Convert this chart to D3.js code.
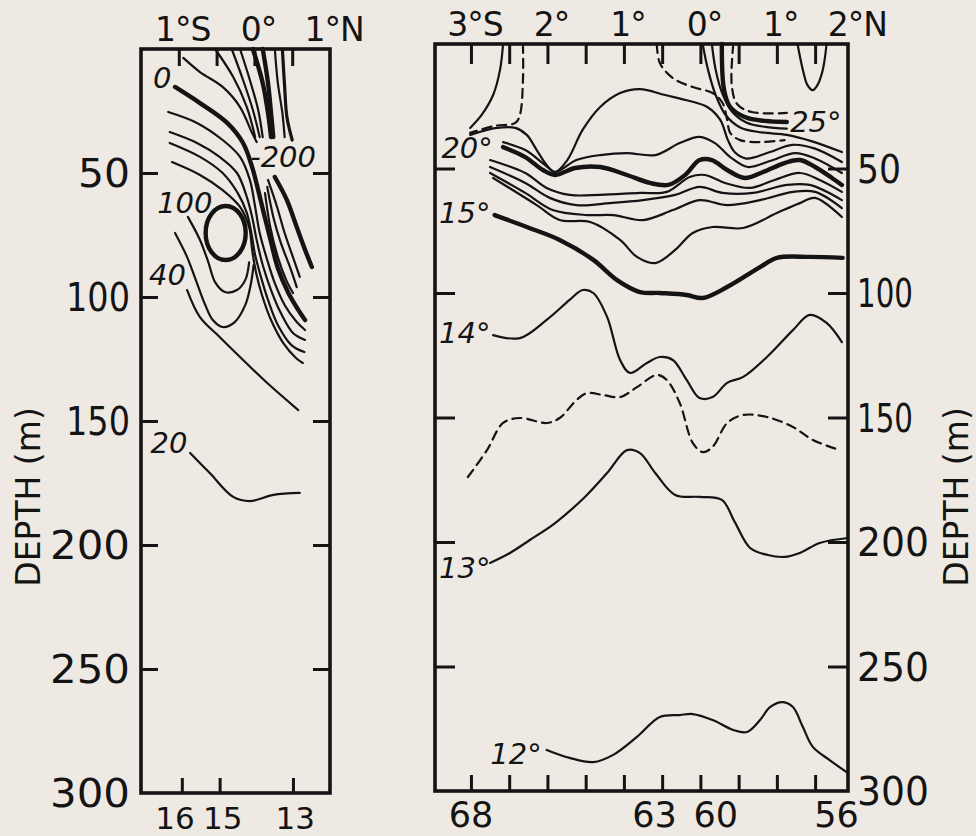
<!DOCTYPE html>
<html>
<head>
<meta charset="utf-8">
<script src="https://cdn.jsdelivr.net/npm/d3@7"></script>
<style>
  html, body { margin: 0; background: #efe9e3; }
  svg { display: block; }
  text { font-family: "DejaVu Sans", sans-serif; fill: #141414; }
</style>
</head>
<body>
<div id="chart"></div>
<script>
// ---- axes data ----
const depthTicks = [50, 100, 150, 200, 250];
const depthLabels = [50, 100, 150, 200, 250, 300];

const leftLatTicks = [-1, -0.5, 0, 0.5];
const leftLatLabels = ["1°S", "0°", "1°N"];
const leftLatLabelPos = [-1, 0, 1];
const leftStations = ["16", "15", "13"];
const leftStationLat = [-0.96, -0.46, 0.51];
const leftStationLabelLat = [-1.05, -0.42, 0.54];

const rightLatTicks = [-3, -2.5, -2, -1.5, -1, -0.5, 0, 0.5, 1, 1.5];
const rightLatLabels = ["3°S", "2°", "1°", "0°", "1°", "2°N"];
const rightLatLabelPos = [-3, -2, -1, 0, 1, 2];
const rightStations = ["68", "63", "60", "56"];
const rightStationLat = [-3.0, -0.6, 0.2, 1.78];

// ---- left section: zonal velocity (cm/s), [lat, depth m] ----
const uSurfW = [[-0.94,3.6],[-0.72,9.3],[-0.42,15.3],[-0.19,23.4],[-0.03,33.9],[0.03,37.5]];
const uW1 = [[-0.52,0],[-0.28,11.3],[-0.10,23.4],[0.01,35.5]];
const uW2 = [[-0.30,0],[-0.15,12.5],[-0.02,24.6],[0.07,35.5]];
const uW3 = [[-0.19,0],[-0.06,12.5],[0.05,24.6],[0.11,35.5]];
const uW4 = [[-0.02,0],[0.11,13.7],[0.18,25.8],[0.22,35.5]];
const uW5 = [[0.11,0],[0.18,13.7],[0.22,25.8],[0.25,35.5]];
const uW6 = [[0.27,0],[0.31,13.7],[0.37,25.8],[0.40,35.5]];
const uW7 = [[0.37,0],[0.40,15.3],[0.43,27.4],[0.50,36.7]];
const uW1b = [[0.27,51.6],[0.43,60.9],[0.56,71.8],[0.67,81.0],[0.76,87.9]];
const uW2b = [[0.18,52.8],[0.30,63.7],[0.40,74.2],[0.51,83.9],[0.60,91.9]];
const uW3b = [[0.17,55.6],[0.25,67.7],[0.35,78.2],[0.47,87.9],[0.56,96.0]];
const uW4b = [[0.14,58.1],[0.21,71.8],[0.31,83.9],[0.42,93.1],[0.51,98.4]];
const uZero = [[-1.05,15.3],[-0.72,21.8],[-0.36,29.8],[-0.15,37.9],[-0.03,47.6],[0.05,56.9],[0.13,66.9],[0.22,77.8],[0.31,88.3],[0.45,98.4],[0.58,105.2],[0.67,109.3]];
const uE1 = [[-1.14,25.4],[-0.76,29.8],[-0.42,36.7],[-0.19,43.5],[-0.06,52.8],[0.01,63.7],[0.07,74.2],[0.17,85.1],[0.27,94.4],[0.40,103.2],[0.56,110.1],[0.67,113.3]];
const uE2 = [[-1.12,33.5],[-0.76,37.9],[-0.46,43.5],[-0.23,50.0],[-0.10,59.7],[-0.03,67.7],[0.03,77.0],[0.11,87.1],[0.22,97.2],[0.35,106.5],[0.51,114.5],[0.67,117.3]];
const uE3 = [[-1.12,37.9],[-0.72,43.5],[-0.42,50.0],[-0.22,58.1],[-0.10,66.1],[-0.04,74.2],[0.01,83.1],[0.09,92.3],[0.18,101.2],[0.31,111.3],[0.49,119.4],[0.66,122.2]];
const uE4 = [[-1.09,45.6],[-0.72,50.8],[-0.42,56.9],[-0.19,63.7],[-0.07,71.8],[-0.03,81.0],[0.02,89.9],[0.10,99.2],[0.22,109.3],[0.38,118.5],[0.55,124.6],[0.64,126.6]];
const u100 = [[-0.88,67.7],[-0.72,77.0],[-0.61,85.9],[-0.52,94.0],[-0.39,98.0],[-0.23,97.2],[-0.12,93.1],[-0.07,86.0]];
const u80 = [[-1.05,74.2],[-0.89,83.9],[-0.76,94.4],[-0.65,103.2],[-0.55,109.3],[-0.42,112.1],[-0.26,110.1],[-0.12,103.2],[-0.05,95.2],[-0.01,87.1]];
const u40 = [[-0.89,97.2],[-0.72,108.1],[-0.46,116.1],[-0.19,124.2],[0.17,134.7],[0.58,145.6]];
const u20 = [[-0.85,162.9],[-0.59,171.0],[-0.28,180.6],[-0.06,182.3],[0.25,179.8],[0.60,179.0]];
const uCoreCenter = [-0.38, 74.2];
const uCoreHalf = [0.265, 10.9];

const leftLabelText = ["0", "-200", "100", "40", "20"];
const leftLabelPos = [[-1.22,11.7],[0.38,43.5],[-0.92,62.1],[-1.15,91.1],[-1.13,158.9]];

// ---- right section: temperature (°C), [lat, depth m] ----
const tTopA = [[-2.58,0],[-2.62,10.4],[-2.71,20.5],[-2.86,28.5],[-3.01,33.7]];
const tTopDash = [[-2.32,0],[-2.32,14.5],[-2.36,28.5],[-2.42,31.7],[-2.69,32.9],[-3.01,35.7]];
const tHump = [[-3.01,36.5],[-2.66,33.7],[-2.42,33.7],[-2.27,36.5],[-2.14,42.6],[-2.01,48.6],[-1.90,51.4],[-1.74,46.6],[-1.54,34.5],[-1.31,25.3],[-1.05,19.7],[-0.79,18.1],[-0.46,20.5],[-0.14,22.9],[0.09,25.3],[0.26,30.5],[0.36,38.6],[0.45,43.5],[0.60,46.0],[0.90,43.5],[1.20,40.5],[1.50,42.0],[1.85,47.4]];
const t25a = [[0.03,0],[0.10,10.4],[0.20,20.5],[0.33,28.5],[0.52,33.5],[0.80,35.5],[1.13,36.5],[1.45,39.0],[1.85,43.4]];
const t25b = [[0.15,0],[0.20,10.4],[0.28,19.3],[0.41,27.0],[0.60,31.5],[0.85,33.3],[1.13,34.0]];
const t25 = [[0.28,0],[0.31,18.5],[0.39,25.3],[0.58,29.3],[0.84,30.9],[1.13,31.3]];
const t25dash = [[0.43,0],[0.41,16.5],[0.48,24.1],[0.67,27.3],[1.13,27.7]];
const tDashEq = [[-0.57,0],[-0.53,7.6],[-0.36,13.7],[-0.10,17.3],[0.16,19.7],[0.29,23.7],[0.35,30.5],[0.39,35.7],[0.52,38.6],[0.78,39.4],[1.10,38.6]];
const tDip = [[1.27,0],[1.34,10.4],[1.40,16.5],[1.47,18.5],[1.53,16.5],[1.60,10.4],[1.65,0]];
const tA = [[-2.58,39.4],[-2.29,42.6],[-2.03,48.6],[-1.90,51.4],[-1.62,46.6],[-1.31,44.6],[-0.96,43.8],[-0.59,44.6],[-0.27,39.8],[-0.01,37.3],[0.19,39.8],[0.39,45.4],[0.62,49.4],[0.91,47.0],[1.24,43.8],[1.50,46.0],[1.85,51.8]];
const t20 = [[-2.58,41.4],[-2.29,45.4],[-2.06,50.6],[-1.90,52.6],[-1.64,49.8],[-1.31,49.4],[-0.96,52.6],[-0.66,55.8],[-0.42,56.6],[-0.20,52.6],[-0.01,46.6],[0.15,46.6],[0.35,50.6],[0.58,53.8],[0.82,51.4],[1.10,47.8],[1.30,46.6],[1.50,49.4],[1.72,53.8],[1.85,56.6]];
const tB = [[-2.75,46.6],[-2.29,51.8],[-2.01,57.8],[-1.71,60.6],[-1.31,60.6],[-0.79,59.8],[-0.44,59.4],[-0.14,53.4],[0.06,52.6],[0.32,55.8],[0.65,57.8],[0.97,54.6],[1.30,51.8],[1.56,54.6],[1.85,59.4]];
const tC = [[-2.75,49.4],[-2.29,55.8],[-1.97,61.8],[-1.62,64.7],[-1.18,63.9],[-0.75,62.7],[-0.33,60.6],[-0.01,57.4],[0.29,59.8],[0.69,59.8],[1.13,56.6],[1.43,56.6],[1.85,62.7]];
const tD = [[-2.75,51.8],[-2.29,59.8],[-1.93,66.7],[-1.48,68.7],[-1.14,68.7],[-0.75,70.7],[-0.36,66.7],[-0.01,62.7],[0.35,64.7],[0.78,62.7],[1.21,59.4],[1.50,59.4],[1.85,65.9]];
const tE = [[-2.71,53.8],[-2.14,64.7],[-1.84,70.7],[-1.44,71.5],[-1.05,78.7],[-0.83,85.5],[-0.59,88.0],[-0.33,82.7],[-0.10,75.9],[0.16,73.5],[0.56,73.9],[1.00,67.9],[1.30,63.9],[1.50,61.8],[1.85,69.5]];
const t15 = [[-2.69,68.7],[-2.27,73.5],[-1.84,78.7],[-1.40,86.7],[-1.09,94.8],[-0.79,99.6],[-0.53,100.0],[-0.18,100.8],[0.03,102.0],[0.35,97.6],[0.78,89.6],[1.00,85.9],[1.43,85.5],[1.86,85.9]];
const t14 = [[-2.71,116.9],[-2.36,118.1],[-2.01,110.8],[-1.71,102.8],[-1.54,98.8],[-1.40,100.0],[-1.22,109.6],[-1.05,126.9],[-0.92,132.1],[-0.70,128.1],[-0.53,125.7],[-0.36,126.9],[-0.18,134.9],[-0.01,142.2],[0.16,141.8],[0.35,136.1],[0.56,133.7],[0.87,125.7],[1.21,114.9],[1.43,108.8],[1.65,112.0],[1.85,119.7]];
const t135 = [[-3.04,173.9],[-2.79,163.1],[-2.58,152.2],[-2.36,150.2],[-2.01,152.2],[-1.84,150.2],[-1.62,143.0],[-1.48,140.2],[-1.27,141.0],[-1.05,141.8],[-0.83,137.8],[-0.57,132.9],[-0.44,134.9],[-0.27,144.2],[-0.10,160.2],[0.03,163.9],[0.16,161.8],[0.35,152.2],[0.56,149.0],[0.87,149.8],[1.21,153.8],[1.47,159.0],[1.82,163.1]];
const t13 = [[-2.75,208.4],[-2.49,204.4],[-2.23,199.2],[-1.90,192.4],[-1.51,181.9],[-1.22,172.3],[-0.96,163.1],[-0.79,164.3],[-0.59,172.3],[-0.33,181.1],[-0.01,181.9],[0.28,183.1],[0.45,192.0],[0.65,202.4],[0.88,205.2],[1.10,206.0],[1.30,204.4],[1.56,200.4],[1.93,198.4]];
const t12 = [[-2.01,283.5],[-1.71,286.7],[-1.40,288.4],[-1.14,285.5],[-0.83,278.3],[-0.53,270.3],[-0.27,269.5],[-0.10,269.1],[0.16,271.5],[0.43,275.5],[0.61,276.3],[0.78,271.5],[0.91,266.3],[1.08,264.3],[1.21,266.3],[1.34,274.3],[1.47,282.3],[1.69,287.6],[1.93,292.8]];

const rightLabelText = ["25°", "20°", "15°", "14°", "13°", "12°"];
const rightLabelPos = [[1.51,31.3],[-3.05,41.8],[-3.08,67.9],[-3.08,116.1],[-3.08,210.4],[-2.41,285.1]];

// ---- drawing ----
const W = 976, H = 836;
const INK = "#141414";
const THIN = 2.2, THICK = 4.4, FRAME = 3.6;
const DASH = "9,6";

const svg = d3.select("#chart").append("svg").attr("width", W).attr("height", H);
svg.append("rect").attr("width", W).attr("height", H).attr("fill", "#efe9e3");

const xL = d3.scaleLinear().domain([-1.5, 1.0]).range([141, 330]);
const yL = d3.scaleLinear().domain([0, 300]).range([49, 793]);
const xR = d3.scaleLinear().domain([-3.47, 1.93]).range([435, 848]);
const yR = d3.scaleLinear().domain([0, 300]).range([44, 791]);

const leftLines = [
  { pts: uSurfW, w: THIN }, { pts: uW1, w: THIN }, { pts: uW2, w: THIN }, { pts: uW3, w: THIN },
  { pts: uW4, w: THICK }, { pts: uW5, w: THICK }, { pts: uW6, w: THIN }, { pts: uW7, w: 3.2 },
  { pts: uW1b, w: THICK }, { pts: uW2b, w: THIN }, { pts: uW3b, w: THIN }, { pts: uW4b, w: THIN },
  { pts: uZero, w: THICK }, { pts: uE1, w: THIN }, { pts: uE2, w: THIN }, { pts: uE3, w: THIN },
  { pts: uE4, w: THIN }, { pts: u100, w: THIN }, { pts: u80, w: THIN }, { pts: u40, w: THIN },
  { pts: u20, w: THIN }
];

const rightLines = [
  { pts: tTopA, w: THIN }, { pts: tTopDash, w: THIN, dash: DASH }, { pts: tHump, w: THIN },
  { pts: t25a, w: THIN }, { pts: t25b, w: THIN }, { pts: t25, w: THICK }, { pts: t25dash, w: THIN, dash: DASH },
  { pts: tDashEq, w: THIN, dash: DASH }, { pts: tDip, w: THIN },
  { pts: tA, w: THIN }, { pts: t20, w: THICK }, { pts: tB, w: THIN }, { pts: tC, w: THIN },
  { pts: tD, w: THIN }, { pts: tE, w: THIN }, { pts: t15, w: THICK }, { pts: t14, w: THIN },
  { pts: t135, w: THIN, dash: DASH }, { pts: t13, w: THIN }, { pts: t12, w: THIN }
];

// round, wide depth numerals with a narrow "1"
const glyphW = c => (c === "1" ? 12 : 28);
const fitW = s => d3.sum(s.split(""), glyphW) - 4;

function drawPanel(x, y, o) {
  const g = svg.append("g");
  const [x0, x1] = x.range(), [y0, y1] = y.range();
  const line = d3.line()
    .x(d => x(d[0])).y(d => y(d[1]))
    .curve(d3.curveCatmullRom.alpha(0.5));

  g.selectAll("path.iso")
    .data(o.lines)
    .join("path")
    .attr("class", "iso")
    .attr("d", d => line(d.pts))
    .attr("fill", "none")
    .attr("stroke", INK)
    .attr("stroke-width", d => d.w)
    .attr("stroke-dasharray", d => d.dash || null)
    .attr("stroke-linecap", "round")
    .attr("stroke-linejoin", "round");

  // inward ticks on all four sides
  const axes = [
    [d3.axisLeft(y).tickValues(depthTicks).tickSize(-o.tickY), `translate(${x0},0)`],
    [d3.axisRight(y).tickValues(depthTicks).tickSize(-o.tickY), `translate(${x1},0)`],
    [d3.axisTop(x).tickValues(o.topTicks).tickSize(-o.tickTop), `translate(0,${y0})`],
    [d3.axisBottom(x).tickValues(o.bottomTicks).tickSize(-o.tickBottom), `translate(0,${y1})`]
  ];
  axes.forEach(([ax, tr]) => {
    const a = g.append("g").attr("transform", tr).attr("color", INK)
      .call(ax.tickFormat("").tickSizeOuter(0));
    a.select(".domain").remove();
    a.selectAll("line").attr("stroke-width", 3);
  });

  // frame
  g.append("rect")
    .attr("x", x0).attr("y", y0)
    .attr("width", x1 - x0).attr("height", y1 - y0)
    .attr("fill", "none").attr("stroke", INK).attr("stroke-width", FRAME);

  // latitude labels on top
  g.selectAll("text.lat")
    .data(o.latLabels)
    .join("text")
    .attr("class", "lat")
    .attr("x", (d, i) => x(o.latLabelPos[i]) + 4)
    .attr("y", y0 - 8)
    .attr("text-anchor", "middle")
    .attr("font-size", 33)
    .attr("letter-spacing", -1)
    .text(d => d);

  // station numbers below
  g.selectAll("text.sta")
    .data(o.stations)
    .join("text")
    .attr("class", "sta")
    .attr("x", (d, i) => x(o.stationLabelLat[i]))
    .attr("y", y1 + 36)
    .attr("text-anchor", "middle")
    .attr("font-size", o.staSize)
    .text(d => d);

  // isoline labels
  g.selectAll("text.iso")
    .data(o.labelText)
    .join("text")
    .attr("class", "iso")
    .attr("x", (d, i) => x(o.labelPos[i][0]))
    .attr("y", (d, i) => y(o.labelPos[i][1]))
    .attr("text-anchor", "middle")
    .attr("dominant-baseline", "central")
    .attr("font-style", "italic")
    .attr("font-size", 29)
    .text(d => d);

  // depth labels
  const side = o.depthSide;
  g.selectAll("text.depth")
    .data(depthLabels)
    .join("text")
    .attr("class", "depth")
    .attr("x", side === "left" ? x0 - 11 : x1 + 9)
    .attr("y", d => y(d) + 14)
    .attr("text-anchor", side === "left" ? "end" : "start")
    .attr("font-size", 39)
    .attr("textLength", d => fitW(String(d)) - o.depthTrim)
    .attr("lengthAdjust", "spacingAndGlyphs")
    .text(d => d);

  return g;
}

const gl = drawPanel(xL, yL, {
  lines: leftLines, tickY: 17, tickTop: 17, tickBottom: 15,
  topTicks: leftLatTicks, bottomTicks: leftStationLat,
  latLabels: leftLatLabels, latLabelPos: leftLatLabelPos,
  stations: leftStations, stationLabelLat: leftStationLabelLat, staSize: 31,
  labelText: leftLabelText, labelPos: leftLabelPos,
  depthSide: "left", depthTrim: 0
});

// core of the undercurrent: closed isotach
gl.append("ellipse")
  .attr("cx", xL(uCoreCenter[0]))
  .attr("cy", yL(uCoreCenter[1]))
  .attr("rx", xL(uCoreCenter[0] + uCoreHalf[0]) - xL(uCoreCenter[0]))
  .attr("ry", yL(uCoreCenter[1] + uCoreHalf[1]) - yL(uCoreCenter[1]))
  .attr("fill", "none").attr("stroke", INK).attr("stroke-width", THICK);

drawPanel(xR, yR, {
  lines: rightLines, tickY: 20, tickTop: 20, tickBottom: 16,
  topTicks: rightLatTicks, bottomTicks: rightLatTicks,
  latLabels: rightLatLabels, latLabelPos: rightLatLabelPos,
  stations: rightStations, stationLabelLat: rightStationLat, staSize: 35,
  labelText: rightLabelText, labelPos: rightLabelPos,
  depthSide: "right", depthTrim: 8
});

// axis titles
[[40, 497], [968, 497]].forEach(([cx, cy]) => {
  svg.append("text")
    .attr("transform", `translate(${cx},${cy}) rotate(-90)`)
    .attr("text-anchor", "middle")
    .attr("font-size", 33)
    .text("DEPTH (m)");
});
</script>
</body>
</html>
